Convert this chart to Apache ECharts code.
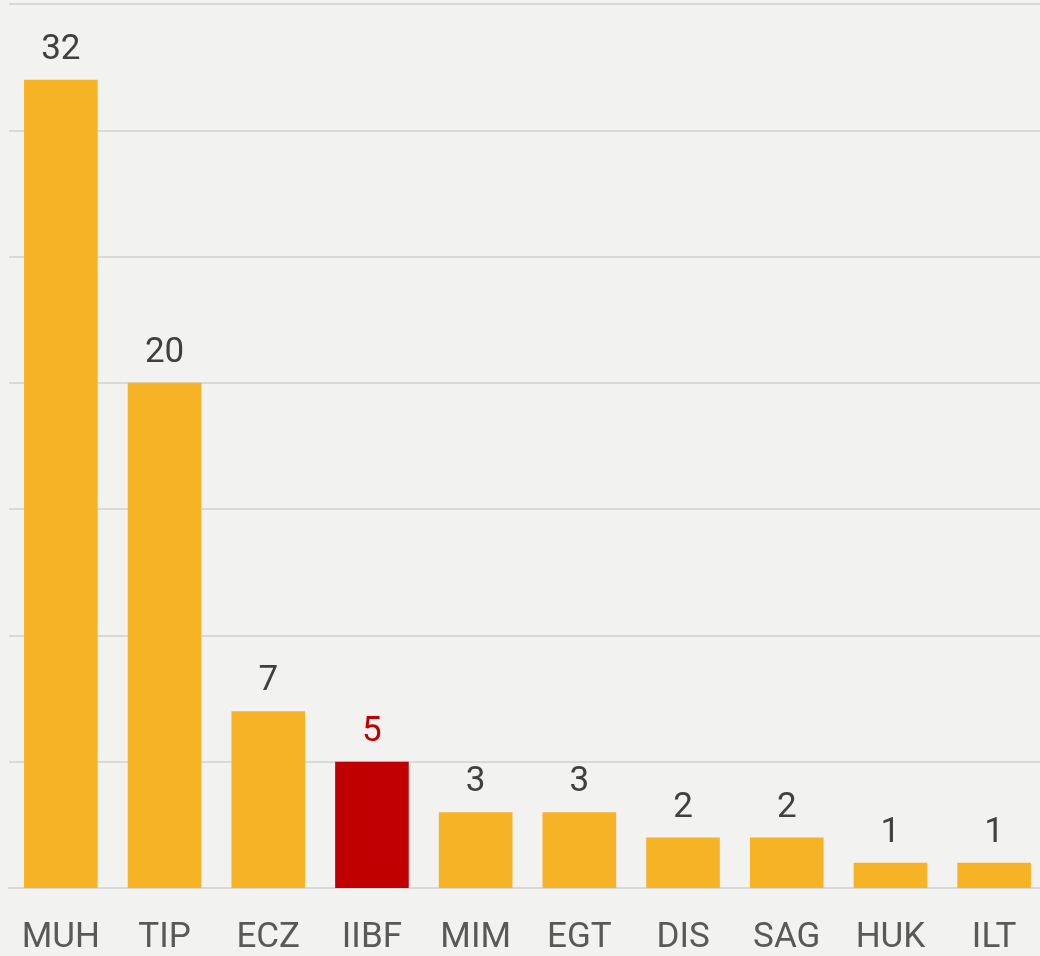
<!DOCTYPE html>
<html>
<head>
<meta charset="utf-8">
<script src="https://cdn.jsdelivr.net/npm/echarts@6/dist/echarts.min.js"></script>
<style>
	html,body{margin:0;padding:0;background:#f2f2f0;}
	#main{width:1040px;height:956px;}
</style>
</head>
<body>
<div id="main"></div>
<script type="text/javascript">
	var categories = ["MUH","TIP","ECZ","IIBF","MIM","EGT","DIS","SAG","HUK","ILT"];
	var values = [32,20,7,5,3,3,2,2,1,1];
	var highlight = "IIBF";

	var barColor = "#f7b326";
	var hiColor = "#c00000";

	var chart = echarts.init(document.getElementById("main"));

	var seriesData = values.map(function(v,i){
		var hi = categories[i] === highlight;
		return {
			value:v,
			itemStyle:{color:hi ? hiColor : barColor},
			label:{color:hi ? hiColor : "#404040"}
		};
	});

	var option = {
		backgroundColor:"#f2f2f0",
		animation:false,
		grid:{left:9,top:4,width:1037,height:884,outerBoundsMode:"none",containLabel:false},
		xAxis:{
			type:"category",
			data:categories,
			axisLine:{lineStyle:{color:"#d9d9d9",width:2}},
			axisTick:{show:false},
			axisLabel:{color:"#595959",fontFamily:"Roboto",fontSize:35,margin:33}
		},
		yAxis:{
			type:"value",
			min:0,
			max:35,
			interval:5,
			axisLabel:{show:false},
			axisLine:{show:false},
			axisTick:{show:false},
			splitLine:{lineStyle:{color:"#d9d9d9",width:2}}
		},
		series:[{
			type:"bar",
			data:seriesData,
			barCategoryGap:"29%",
			label:{show:true,position:"top",distance:12,fontFamily:"Roboto",fontSize:35}
		}]
	};

	chart.setOption(option);
</script>
</body>
</html>
